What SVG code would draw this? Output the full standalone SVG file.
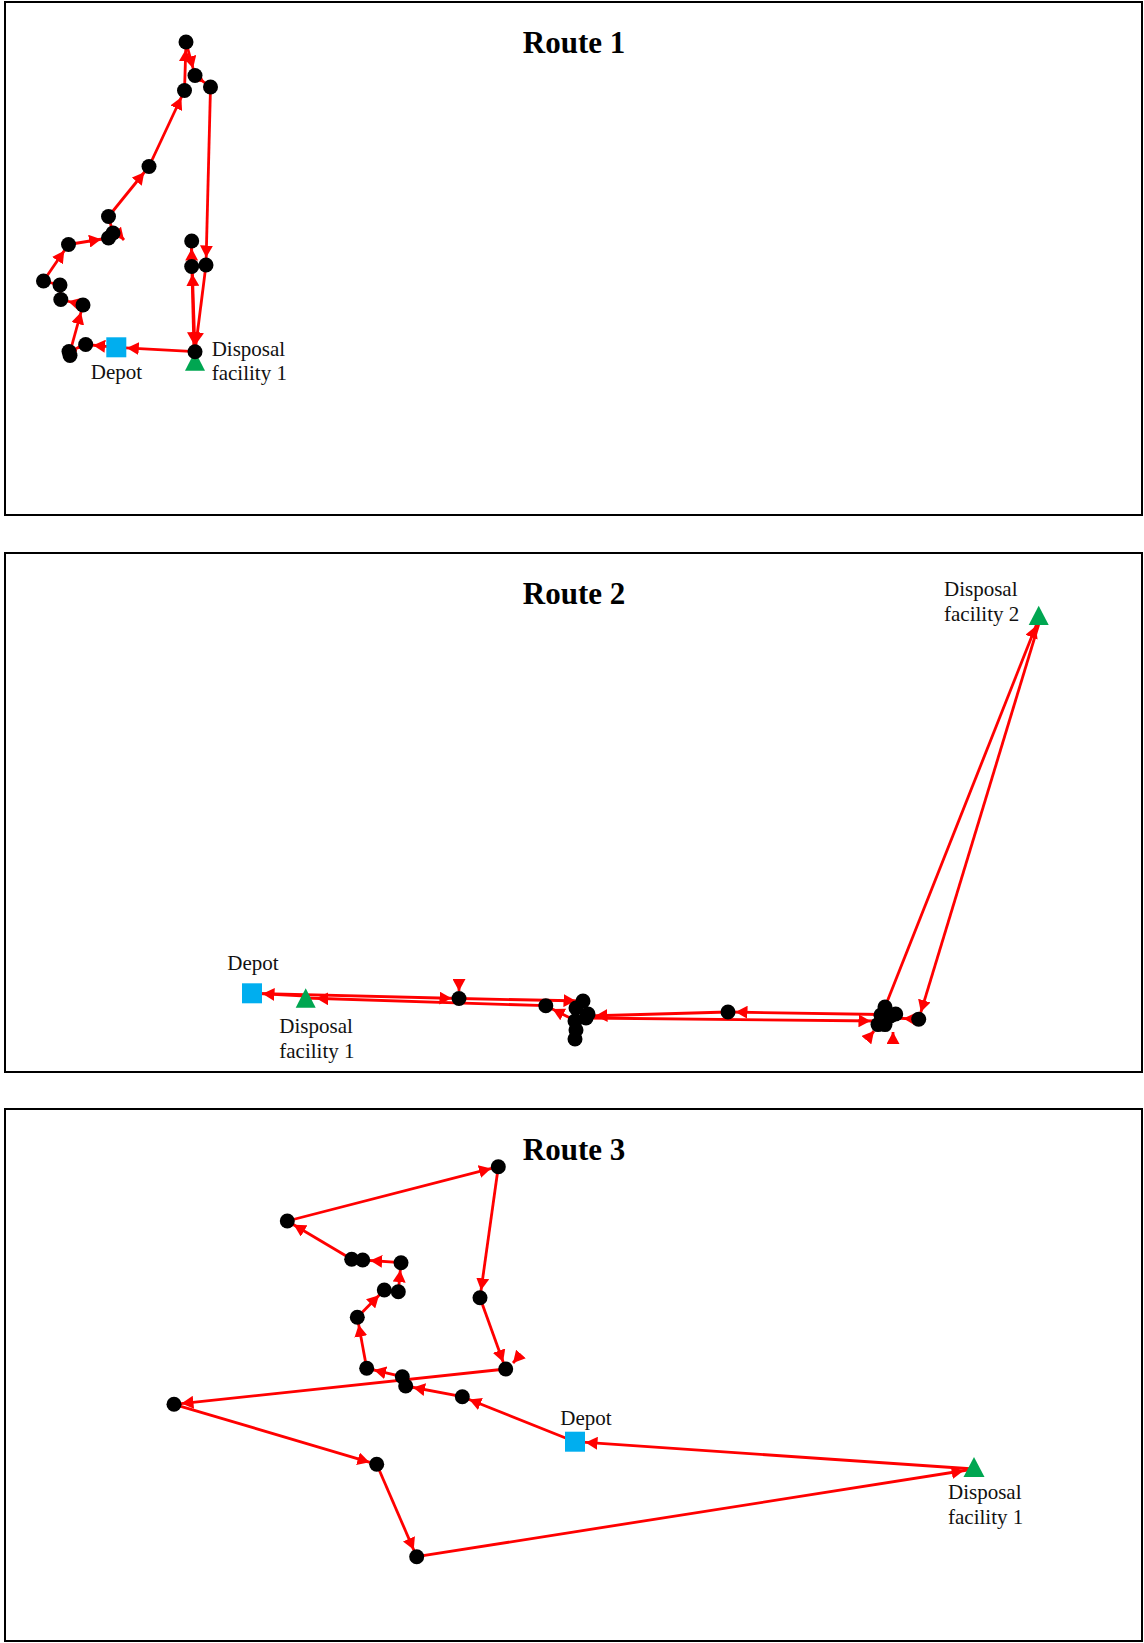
<svg xmlns="http://www.w3.org/2000/svg" width="1144" height="1643" viewBox="0 0 1144 1643">
<style>
.frame{fill:#fff;stroke:#000;stroke-width:2}
.title{font-family:"Liberation Serif","Times New Roman",serif;font-weight:bold;font-size:31px;fill:#000}
.lbl{font-family:"Liberation Serif","Times New Roman",serif;font-size:21px;fill:#111}
.e{stroke:#f00;stroke-width:2.8;fill:none}
.n{fill:#000}
.dep{fill:#00AEEF}
.fac{fill:#00A651}
</style>
<defs>
<marker id="a7" markerUnits="userSpaceOnUse" markerWidth="21" markerHeight="13" refX="19.5" refY="6.5" orient="auto"><path d="M0,0 L12,6.5 L0,13 z" fill="#f00"/></marker>
<marker id="a10" markerUnits="userSpaceOnUse" markerWidth="24" markerHeight="13" refX="22.5" refY="6.5" orient="auto"><path d="M0,0 L12,6.5 L0,13 z" fill="#f00"/></marker>
<marker id="a0" markerUnits="userSpaceOnUse" markerWidth="13" markerHeight="13" refX="12" refY="6.5" orient="auto"><path d="M0,0 L12,6.5 L0,13 z" fill="#f00"/></marker>
</defs>

<g id="panels">
<rect class="frame" x="5" y="2" width="1137" height="513"/>
<rect class="frame" x="5" y="553" width="1137" height="519"/>
<rect class="frame" x="5" y="1109" width="1137" height="532"/>
<text class="title" x="574" y="53" text-anchor="middle">Route 1</text>
<text class="title" x="574" y="604" text-anchor="middle">Route 2</text>
<text class="title" x="574" y="1160" text-anchor="middle">Route 3</text>
</g>

<g id="connectors">
<!-- Route 1 -->
<line class="e" x1="116.3" y1="347.3" x2="85.7" y2="344.5" marker-end="url(#a7)"/>
<line class="e" x1="85.7" y1="344.5" x2="69" y2="351.5" marker-end="url(#a7)"/>
<line class="e" x1="76" y1="356" x2="64" y2="353" marker-end="url(#a0)"/>
<line class="e" x1="70" y1="352" x2="83" y2="305" marker-end="url(#a7)"/>
<line class="e" x1="83" y1="305" x2="60.8" y2="299.5" marker-end="url(#a7)"/>
<line class="e" x1="60.8" y1="299.5" x2="60" y2="285"/>
<line class="e" x1="60" y1="285" x2="43.5" y2="281" marker-end="url(#a7)"/>
<line class="e" x1="43.5" y1="281" x2="68.5" y2="244.5" marker-end="url(#a7)"/>
<line class="e" x1="68.5" y1="244.5" x2="108.5" y2="238" marker-end="url(#a7)"/>
<line class="e" x1="108.5" y1="238" x2="113" y2="233"/>
<line class="e" x1="113" y1="233" x2="108.5" y2="216.5"/>
<line class="e" x1="117" y1="232" x2="124" y2="240" marker-end="url(#a0)"/>
<line class="e" x1="108.5" y1="216.5" x2="149" y2="166.5" marker-end="url(#a7)"/>
<line class="e" x1="149" y1="166.5" x2="184.5" y2="90.5" marker-end="url(#a7)"/>
<line class="e" x1="184.5" y1="90.5" x2="186" y2="42" marker-end="url(#a7)"/>
<line class="e" x1="186" y1="42" x2="195" y2="75.5" marker-end="url(#a7)"/>
<line class="e" x1="195" y1="75.5" x2="210.5" y2="87" marker-end="url(#a7)"/>
<line class="e" x1="210.5" y1="87" x2="206" y2="265" marker-end="url(#a7)"/>
<line class="e" x1="206" y1="265" x2="195" y2="351.7" marker-end="url(#a7)"/>
<line class="e" x1="195" y1="351.7" x2="192.2" y2="266.5" marker-end="url(#a7)"/>
<line class="e" x1="191.7" y1="266.5" x2="191.7" y2="241" marker-end="url(#a7)"/>
<line class="e" x1="191.2" y1="241" x2="194" y2="351.7" marker-end="url(#a7)"/>
<line class="e" x1="195" y1="351.7" x2="116.3" y2="347.3" marker-end="url(#a10)"/>

<!-- Route 2 -->
<line class="e" x1="252" y1="993.3" x2="459" y2="998.5" marker-end="url(#a7)"/>
<line class="e" x1="459" y1="984" x2="459" y2="991" marker-end="url(#a0)"/>
<line class="e" x1="459" y1="998.5" x2="583" y2="1001" marker-end="url(#a7)"/>
<polyline class="e" points="583,1001 576,1008 588,1014 586,1018 575,1021 576,1030 575,1039"/>
<line class="e" x1="586" y1="1018" x2="878" y2="1021" marker-end="url(#a7)"/>
<line class="e" x1="885" y1="1007" x2="1038.7" y2="619" marker-end="url(#a7)"/>
<line class="e" x1="1040" y1="620" x2="918.7" y2="1019.3" marker-end="url(#a7)"/>
<line class="e" x1="918.7" y1="1019.3" x2="896" y2="1018" marker-end="url(#a7)"/>
<line class="e" x1="869" y1="1037" x2="874" y2="1031" marker-end="url(#a0)"/>
<line class="e" x1="893" y1="1039" x2="893" y2="1032" marker-end="url(#a0)"/>
<line class="e" x1="881" y1="1014.5" x2="728" y2="1012" marker-end="url(#a7)"/>
<line class="e" x1="728" y1="1012" x2="588" y2="1016" marker-end="url(#a7)"/>
<line class="e" x1="576" y1="1021" x2="545.8" y2="1005.7" marker-end="url(#a7)"/>
<line class="e" x1="545.8" y1="1005.7" x2="305.7" y2="998" marker-end="url(#a10)"/>
<line class="e" x1="305.7" y1="996" x2="252" y2="993.3" marker-end="url(#a10)"/>

<!-- Route 3 -->
<line class="e" x1="575" y1="1441.7" x2="462.3" y2="1396.7" marker-end="url(#a7)"/>
<line class="e" x1="462.3" y1="1396.7" x2="405.7" y2="1386" marker-end="url(#a7)"/>
<line class="e" x1="405.7" y1="1386" x2="402.3" y2="1376.7"/>
<line class="e" x1="402.3" y1="1376.7" x2="366.7" y2="1368.3" marker-end="url(#a7)"/>
<line class="e" x1="366.7" y1="1368.3" x2="357.3" y2="1317.3" marker-end="url(#a7)"/>
<line class="e" x1="357.3" y1="1317.3" x2="384.3" y2="1290" marker-end="url(#a7)"/>
<line class="e" x1="384.3" y1="1290" x2="398.3" y2="1291.7"/>
<line class="e" x1="398.3" y1="1291.7" x2="401" y2="1262.7" marker-end="url(#a7)"/>
<line class="e" x1="401" y1="1262.7" x2="362.7" y2="1260" marker-end="url(#a7)"/>
<line class="e" x1="362.7" y1="1260" x2="351.7" y2="1259.3"/>
<line class="e" x1="351.7" y1="1259.3" x2="287.3" y2="1221" marker-end="url(#a7)"/>
<line class="e" x1="287.3" y1="1221" x2="498.3" y2="1166.7" marker-end="url(#a7)"/>
<line class="e" x1="498.3" y1="1166.7" x2="480" y2="1297.7" marker-end="url(#a7)"/>
<line class="e" x1="480" y1="1297.7" x2="505.7" y2="1369" marker-end="url(#a7)"/>
<line class="e" x1="521" y1="1354" x2="513" y2="1363" marker-end="url(#a0)"/>
<line class="e" x1="505.7" y1="1369" x2="174" y2="1404.3" marker-end="url(#a7)"/>
<line class="e" x1="174" y1="1404.3" x2="376.7" y2="1464.3" marker-end="url(#a7)"/>
<line class="e" x1="376.7" y1="1464.3" x2="416.7" y2="1556.7" marker-end="url(#a7)"/>
<line class="e" x1="416.7" y1="1556.7" x2="974" y2="1469" marker-end="url(#a10)"/>
<line class="e" x1="974" y1="1469" x2="575" y2="1441.7" marker-end="url(#a10)"/>
</g>

<g id="route1-nodes">
<g id="r1-facility1"><polygon class="fac" points="195,351.3 185,370.7 205,370.7"/><circle class="n" cx="195" cy="351.7" r="7.5"/></g>
<g id="r1-depot"><rect class="dep" x="106.3" y="337.3" width="20" height="20"/></g>
<g id="r1-customers">
<circle class="n" cx="186" cy="42" r="7.5"/>
<circle class="n" cx="195" cy="75.5" r="7.5"/>
<circle class="n" cx="210.5" cy="87" r="7.5"/>
<circle class="n" cx="184.5" cy="90.5" r="7.5"/>
<circle class="n" cx="149" cy="166.5" r="7.5"/>
<circle class="n" cx="108.5" cy="216.5" r="7.5"/>
<circle class="n" cx="113" cy="233" r="7.5"/>
<circle class="n" cx="108.5" cy="238" r="7.5"/>
<circle class="n" cx="68.5" cy="244.5" r="7.5"/>
<circle class="n" cx="43.5" cy="281" r="7.5"/>
<circle class="n" cx="60" cy="285" r="7.5"/>
<circle class="n" cx="60.8" cy="299.5" r="7.5"/>
<circle class="n" cx="83" cy="305" r="7.5"/>
<circle class="n" cx="85.7" cy="344.5" r="7.5"/>
<circle class="n" cx="69" cy="351.5" r="7.5"/>
<circle class="n" cx="70" cy="355.5" r="7.5"/>
<circle class="n" cx="191.7" cy="241" r="7.5"/>
<circle class="n" cx="191.7" cy="266.5" r="7.5"/>
<circle class="n" cx="206" cy="265" r="7.5"/>
</g>
<text class="lbl" x="116.5" y="379" text-anchor="middle">Depot</text>
<text class="lbl" x="211.7" y="356">Disposal</text>
<text class="lbl" x="211.7" y="380">facility 1</text>
</g>

<g id="route2-nodes">
<g id="r2-depot"><rect class="dep" x="242" y="983.3" width="20" height="20"/></g>
<g id="r2-facility1"><polygon class="fac" points="305.7,988.3 295.7,1007.7 315.7,1007.7"/></g>
<g id="r2-facility2"><polygon class="fac" points="1038.7,605.7 1028.7,625 1048.7,625"/></g>
<g id="r2-customers">
<circle class="n" cx="459" cy="998.5" r="7.5"/>
<circle class="n" cx="545.8" cy="1005.7" r="7.5"/>
<circle class="n" cx="583" cy="1001" r="7.5"/>
<circle class="n" cx="576" cy="1008" r="7.5"/>
<circle class="n" cx="588" cy="1014" r="7.5"/>
<circle class="n" cx="586" cy="1018" r="7.5"/>
<circle class="n" cx="575" cy="1021" r="7.5"/>
<circle class="n" cx="576" cy="1030" r="7.5"/>
<circle class="n" cx="575" cy="1039" r="7.5"/>
<circle class="n" cx="728" cy="1012" r="7.5"/>
<circle class="n" cx="885" cy="1007" r="7.5"/>
<circle class="n" cx="895.7" cy="1014" r="7.5"/>
<circle class="n" cx="890.5" cy="1016" r="7.5"/>
<circle class="n" cx="881" cy="1015" r="7.5"/>
<circle class="n" cx="882" cy="1021.4" r="7.5"/>
<circle class="n" cx="878" cy="1024.6" r="7.5"/>
<circle class="n" cx="885" cy="1024.6" r="7.5"/>
<circle class="n" cx="918.7" cy="1019.3" r="7.5"/>
</g>
<text class="lbl" x="253" y="970" text-anchor="middle">Depot</text>
<text class="lbl" x="279.3" y="1033">Disposal</text>
<text class="lbl" x="279.3" y="1058">facility 1</text>
<text class="lbl" x="944" y="596">Disposal</text>
<text class="lbl" x="944" y="621">facility 2</text>
</g>

<g id="route3-nodes">
<g id="r3-depot"><rect class="dep" x="565" y="1431.7" width="20" height="20"/></g>
<g id="r3-facility1"><polygon class="fac" points="974,1457 963.5,1477 984.5,1477"/></g>
<g id="r3-customers">
<circle class="n" cx="498.3" cy="1166.7" r="7.5"/>
<circle class="n" cx="287.3" cy="1221" r="7.5"/>
<circle class="n" cx="351.7" cy="1259.3" r="7.5"/>
<circle class="n" cx="362.7" cy="1260" r="7.5"/>
<circle class="n" cx="401" cy="1262.7" r="7.5"/>
<circle class="n" cx="384.3" cy="1290" r="7.5"/>
<circle class="n" cx="398.3" cy="1291.7" r="7.5"/>
<circle class="n" cx="357.3" cy="1317.3" r="7.5"/>
<circle class="n" cx="366.7" cy="1368.3" r="7.5"/>
<circle class="n" cx="480" cy="1297.7" r="7.5"/>
<circle class="n" cx="505.7" cy="1369" r="7.5"/>
<circle class="n" cx="402.3" cy="1376.7" r="7.5"/>
<circle class="n" cx="405.7" cy="1386" r="7.5"/>
<circle class="n" cx="462.3" cy="1396.7" r="7.5"/>
<circle class="n" cx="174" cy="1404.3" r="7.5"/>
<circle class="n" cx="376.7" cy="1464.3" r="7.5"/>
<circle class="n" cx="416.7" cy="1556.7" r="7.5"/>
</g>
<text class="lbl" x="586" y="1425" text-anchor="middle">Depot</text>
<text class="lbl" x="948" y="1499">Disposal</text>
<text class="lbl" x="948" y="1524">facility 1</text>
</g>
</svg>
